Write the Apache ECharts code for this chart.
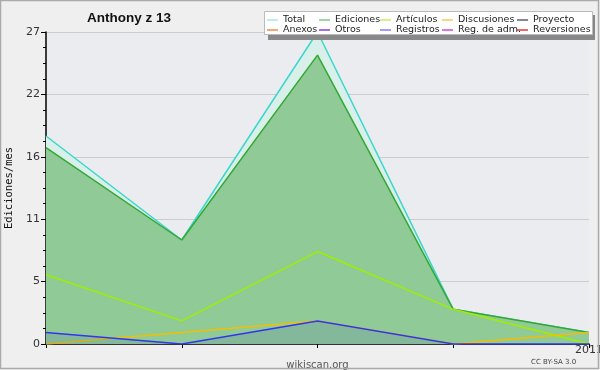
<!DOCTYPE html>
<html><head><meta charset="utf-8">
<script src="https://cdn.jsdelivr.net/npm/echarts@6/dist/echarts.min.js"></script>
<style>html,body{margin:0;padding:0;background:#efefef}#c{width:600px;height:370px}</style>
</head><body><div id="c"></div>
<script>
const categories = ['2010-09','2010-10','2010-11','2010-12','2011-01'];
const xTickLabels = ['', '', '', '', '2011'];
const totalVals = [18, 9, 27, 3, 1];
const edicionesVals = [17, 9, 25, 3, 1];
const articulosVals = [6, 2, 8, 3, 0];
const discusionesVals = [0, 1, 2, 0, 1];
const registrosVals = [1, 0, 2, 0, 0];
const yMin = 0, yMax = 27, yStep = 5.4;

const legendCols = [
  [['Total','#a8e6e0'],['Anexos','#f08848']],
  [['Ediciones','#80c888'],['Otros','#8a40d8']],
  [['Artículos','#c8ec60'],['Registros','#7c80f0']],
  [['Discusiones','#f4c860'],['Reg. de adm.','#d048d8']],
  [['Proyecto','#606060'],['Reversiones','#e03838']]
];
const legendX = [267, 319, 380, 442, 517];

const chart = echarts.init(document.getElementById('c'), null, {renderer:'canvas'});
const font = 'DejaVu Sans';
const legends = legendCols.map((col, i) => ({
  orient: 'vertical', left: legendX[i], top: 15, itemGap: 0, z: 200, itemTextGap: 6,
  itemWidth: 11, itemHeight: 1.5, icon: 'rect', selectedMode: false,
  textStyle: {fontFamily: font, fontSize: 9.5, color: '#222', lineHeight: 10, padding: [0,0,0,0]},
  padding: 0,
  data: col.map(([n, c]) => ({name: n, itemStyle: {color: c}}))
}));
const emptyNames = ['Anexos','Otros','Proyecto','Reg. de adm.','Reversiones'];
const series = [
  {name:'Total', type:'line', data: totalVals, symbol:'none', z:2,
   lineStyle:{color:'#3cd6cc', width:1.5}, itemStyle:{color:'#3cd6cc'},
   areaStyle:{color:'#d9f0ea', opacity:1}},
  {name:'Ediciones', type:'line', data: edicionesVals, symbol:'none', z:3,
   lineStyle:{color:'#34a834', width:1.5}, itemStyle:{color:'#34a834'},
   areaStyle:{color:'#90ca96', opacity:1}},
  {name:'Artículos', type:'line', data: articulosVals, symbol:'none', z:5,
   lineStyle:{color:'#a0ee00', width:1.5}, itemStyle:{color:'#a0ee00'}},
  {name:'Discusiones', type:'line', data: discusionesVals, symbol:'none', z:5,
   lineStyle:{color:'#f2c000', width:1.5}, itemStyle:{color:'#f2c000'}},
  {name:'Registros', type:'line', data: registrosVals, symbol:'none', z:6,
   lineStyle:{color:'#3434f0', width:1.5}, itemStyle:{color:'#3434f0'},
   areaStyle:{color:'rgba(40,60,200,0.12)', opacity:1}}
].concat(emptyNames.map(n => ({name:n, type:'line', data:[], symbol:'none'})));

chart.setOption({
  backgroundColor: '#efefef',
  animation: false,
  title: {text: 'Anthony z 13', left: 124, top: 6, textAlign: 'center',
    textStyle: {fontFamily: 'Liberation Sans', fontWeight: 'bold', fontSize: 13.5, color: '#111'}},
  legend: legends,
  grid: {left: 46, right: 11, top: 32, bottom: 26, outerBoundsMode: 'none', containLabel: false,
    show: true, backgroundColor: '#ebecef', borderWidth: 0},
  xAxis: {type: 'category', data: categories, boundaryGap: false,
    name: 'wikiscan.org', nameLocation: 'middle', nameGap: 8,
    nameTextStyle: {fontFamily: font, fontSize: 10, color: '#555'},
    axisLine: {lineStyle: {color: '#000', width: 1.5}},
    axisTick: {show: true, length: 4, interval: 0, lineStyle: {color: '#000'}},
    axisLabel: {interval: 0, margin: 1, fontFamily: font, fontSize: 11, color: '#333',
      formatter: (v, i) => xTickLabels[i]},
    splitLine: {show: false}},
  yAxis: {type: 'value', min: yMin, max: yMax, interval: yStep,
    name: 'Ediciones/mes', nameLocation: 'middle', nameGap: 30, nameRotate: 90,
    nameTextStyle: {fontFamily: 'DejaVu Sans Mono', fontSize: 10.5, color: '#111'},
    axisLine: {show: true, lineStyle: {color: '#000', width: 1.5}},
    axisTick: {show: true, length: 5, lineStyle: {color: '#000'}},
    minorTick: {show: true, splitNumber: 4, length: 3, lineStyle: {color: '#000'}},
    axisLabel: {margin: 6, fontFamily: font, fontSize: 11, color: '#333',
      formatter: v => String(Math.round(v))},
    splitLine: {show: true, lineStyle: {color: '#cccccc', width: 1}}},
  graphic: [
    {type: 'rect', z: 90, shape: {x: 268, y: 15, width: 327, height: 25}, style: {fill: '#888'}, silent: true},
    {type: 'rect', z: 91, shape: {x: 264.5, y: 11.5, width: 328, height: 23}, style: {fill: '#fff', stroke: '#bbb', lineWidth: 1}, silent: true},
    {type: 'text', left: 531, top: 359, z: 95, style: {text: 'CC BY-SA 3.0', fontFamily: font, fontSize: 7, fill: '#444'}},
    {type: 'rect', z: 99, shape: {x: 0.5, y: 0.5, width: 598, height: 368}, style: {fill: 'none', stroke: '#aaa', lineWidth: 1.5}, silent: true}
  ],
  series: series
});
</script></body></html>
